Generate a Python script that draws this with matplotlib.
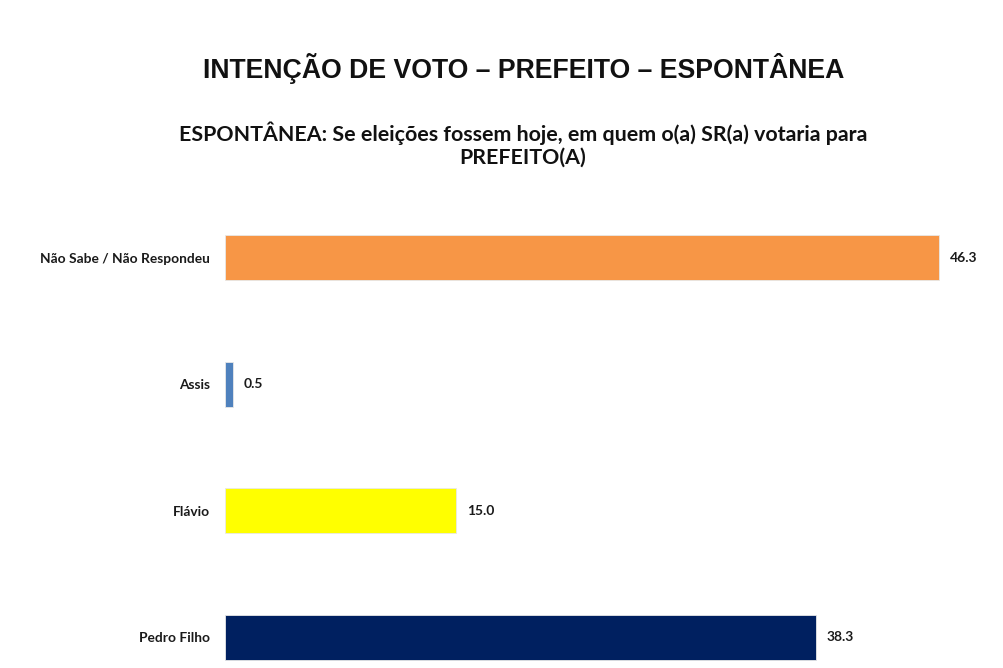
import matplotlib.pyplot as plt

categories = ["Não Sabe / Não Respondeu", "Assis", "Flávio", "Pedro Filho"]
values = [46.3, 0.5, 15.0, 38.3]
colors = ["#F79646", "#4F81BD", "#FFFF00", "#002060"]

title = "INTENÇÃO DE VOTO – PREFEITO – ESPONTÂNEA"
subtitle = "ESPONTÂNEA: Se eleições fossem hoje, em quem o(a) SR(a) votaria para\nPREFEITO(A)"

fig = plt.figure(figsize=(10.04, 6.68), dpi=100)
ax = fig.add_axes([225 / 1004, 0, 771 / 1004, 478 / 668])

pos = list(range(len(categories)))
ax.barh(pos, values, height=0.356, color=colors, edgecolor="#e8e8e8", linewidth=0.6)
ax.set_xlim(0, 50)
ax.set_ylim(3.245, -0.538)

for p, v in zip(pos, values):
    ax.text(v + 0.72, p, f"{v:.1f}", va="center", ha="left",
            fontsize=10, fontweight="bold", family="Lato", color="#1a1a1a")

ax.set_yticks(pos)
ax.set_yticklabels(categories, fontsize=9.9, fontweight="bold", family="Lato", color="#1a1a1a")
ax.tick_params(axis="y", length=0, pad=11)
ax.set_xticks([])
for s in ax.spines.values():
    s.set_visible(False)

fig.text(0.522, 0.898, title, ha="center", va="center", fontsize=19.2,
         fontweight="bold", family="Liberation Sans", color="#111111")
fig.text(0.521, 0.784, subtitle, ha="center", va="center", fontsize=15.4,
         fontweight="bold", family="Lato", color="#111111", linespacing=1.15)

fig.savefig("out.png", dpi=100)
